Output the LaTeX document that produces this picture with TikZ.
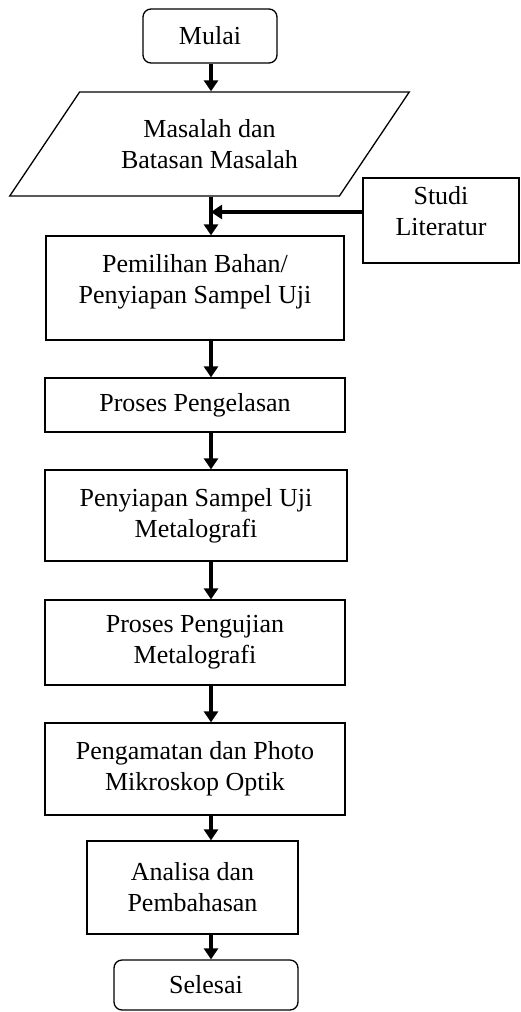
\documentclass[tikz,border=0pt]{standalone}
\usepackage{fontspec}
\setmainfont{Liberation Serif}
\usetikzlibrary{arrows.meta}
\usetikzlibrary{shapes.geometric}

\begin{document}
\begin{tikzpicture}[
    x = 1pt, y = -1pt,
    every node/.style = {font = \fontsize{26}{31}\selectfont, align = center},
    stepbox/.style = {draw, line width = 1.3pt, inner sep = 0pt},
    terminal/.style = {stepbox, rounded corners = 8pt},
    inputbox/.style = {
      stepbox, trapezium, trapezium stretches = true,
      trapezium left angle = 46, trapezium right angle = 134,
    },
    flow/.style = {line width = 3.5pt, -{Triangle[width = 14pt, length = 11pt]}},
  ]
  \useasboundingbox (0,0) rectangle (521,1012);
  \coordinate (spine) at (211,0);
  \coordinate (join) at (211,212);

  \node[terminal, minimum width = 134pt, minimum height = 54pt] (mulai) at (210,36) {Mulai};
  \node[inputbox, minimum width = 401pt, minimum height = 104pt] (masalah) at (209.5,144)
    {Masalah dan\\Batasan Masalah};
  \node[stepbox, minimum width = 156pt, minimum height = 85pt,
    label = {[yshift = 9pt]center:Studi\\Literatur}] (studi) at (441,220.5) {};
  \node[stepbox, minimum width = 298pt, minimum height = 104pt,
    label = {[yshift = 6pt]center:Pemilihan Bahan/\\Penyiapan Sampel Uji}] (pemilihan) at (195,288) {};
  \node[stepbox, minimum width = 300pt, minimum height = 54pt] (pengelasan) at (195,405)
    {Proses Pengelasan};
  \node[stepbox, minimum width = 302pt, minimum height = 91pt] (penyiapan) at (196,515.5)
    {Penyiapan Sampel Uji\\Metalografi};
  \node[stepbox, minimum width = 300pt, minimum height = 85pt] (pengujian) at (195,642.5)
    {Proses Pengujian\\Metalografi};
  \node[stepbox, minimum width = 300pt, minimum height = 92pt] (pengamatan) at (195,769)
    {Pengamatan dan Photo\\Mikroskop Optik};
  \node[stepbox, minimum width = 211pt, minimum height = 93pt] (analisa) at (192.5,887.5)
    {Analisa dan\\Pembahasan};
  \node[terminal, minimum width = 184pt, minimum height = 50pt] (selesai) at (206,985)
    {Selesai};

  \begin{scope}[flow]
    \draw (mulai.south -| spine) -- (masalah.north -| spine);
    \draw (masalah.south -| spine) -- (pemilihan.north -| spine);
    \draw (studi.west |- join) -- (join);
    \draw (pemilihan.south -| spine) -- (pengelasan.north -| spine);
    \draw (pengelasan.south -| spine) -- (penyiapan.north -| spine);
    \draw (penyiapan.south -| spine) -- (pengujian.north -| spine);
    \draw (pengujian.south -| spine) -- (pengamatan.north -| spine);
    \draw (pengamatan.south -| spine) -- (analisa.north -| spine);
    \draw (analisa.south -| spine) -- (selesai.north -| spine);
  \end{scope}
\end{tikzpicture}
\end{document}
